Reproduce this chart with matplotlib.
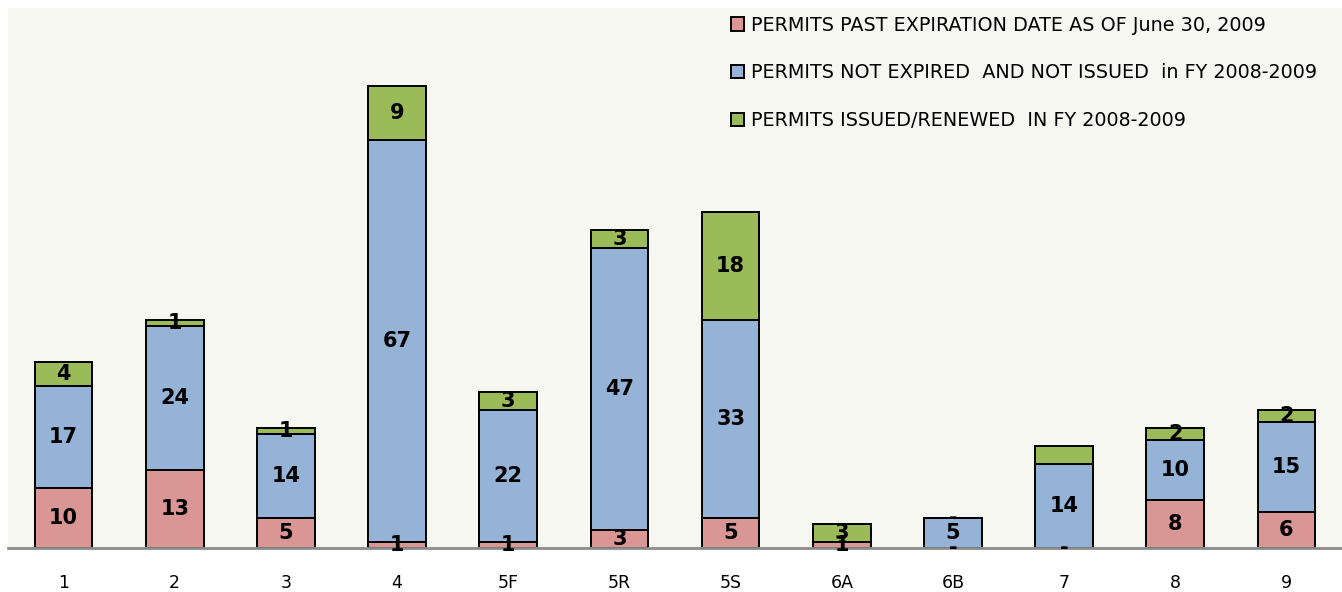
import matplotlib

matplotlib.use("Agg")
import matplotlib.pyplot as plt
import numpy as np

districts = ["1", "2", "3", "4", "5F", "5R", "5S", "6A", "6B", "7", "8", "9"]
expired = [10, 13, 5, 1, 1, 3, 5, 1, 0, 0, 8, 6]
not_issued = [17, 24, 14, 67, 22, 47, 33, 0, 5, 14, 10, 15]
issued = [4, 1, 1, 9, 3, 3, 18, 3, 0, 3, 2, 2]
# green label for district 7 is not shown in the source chart
issued_labels = ["4", "1", "1", "9", "3", "3", "18", "3", "-", "", "2", "2"]

series_names = [
    "PERMITS PAST EXPIRATION DATE AS OF June 30, 2009",
    "PERMITS NOT EXPIRED  AND NOT ISSUED  in FY 2008-2009",
    "PERMITS ISSUED/RENEWED  IN FY 2008-2009",
]

RED = "#D99694"
BLUE = "#95B3D7"
GREEN = "#9BBB59"
BG = "#F5F7F0"


def fmt(vals):
    return [str(v) if v else "-" for v in vals]


fig = plt.figure(figsize=(13.42, 5.92), dpi=100)
ax = fig.add_axes([8 / 1342, 44 / 592, 1334 / 1342, 540 / 592])
ax.set_facecolor(BG)

x = np.arange(len(districts))
w = 0.52
bottom2 = np.array(expired)
bottom3 = bottom2 + np.array(not_issued)

b1 = ax.bar(x, expired, w, color=RED, edgecolor="black", linewidth=1.4, label=series_names[0])
b2 = ax.bar(x, not_issued, w, bottom=bottom2, color=BLUE, edgecolor="black", linewidth=1.4,
            label=series_names[1])
b3 = ax.bar(x, issued, w, bottom=bottom3, color=GREEN, edgecolor="black", linewidth=1.4,
            label=series_names[2])

lab = dict(label_type="center", fontsize=15, fontweight="bold", color="black")
ax.bar_label(b1, labels=fmt(expired), **lab)
ax.bar_label(b2, labels=fmt(not_issued), **lab)
ax.bar_label(b3, labels=issued_labels, **lab)

ax.set_xlim(-0.5, len(districts) - 0.5)
ax.set_ylim(0, 90)
ax.set_xticks(x)
ax.set_xticklabels(districts, fontsize=12.5)
ax.tick_params(axis="x", length=0, pad=19)
ax.set_yticks([])
for side in ["top", "right", "left"]:
    ax.spines[side].set_visible(False)
ax.spines["bottom"].set_color("#8C8C8C")
ax.spines["bottom"].set_linewidth(2)

ax.legend(loc="upper left", bbox_to_anchor=(0.533, 1.007), frameon=False, fontsize=13.8,
          handlelength=0.7, handleheight=0.7, handletextpad=0.35, labelspacing=1.5,
          borderaxespad=0.2)

fig.savefig("out.png", dpi=100, facecolor="white")
